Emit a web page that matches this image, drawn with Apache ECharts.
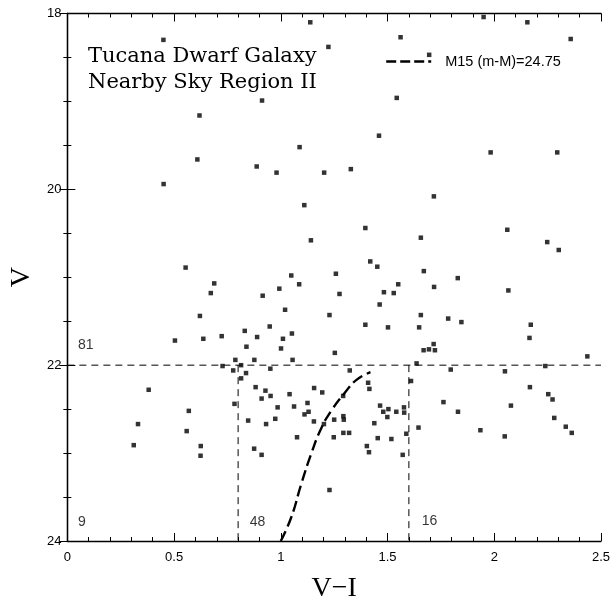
<!DOCTYPE html>
<html><head><meta charset="utf-8">
<script src="https://cdn.jsdelivr.net/npm/echarts@6/dist/echarts.min.js"></script>
<style>html,body{margin:0;padding:0;background:#fff}#c{width:616px;height:608px}</style>
</head><body><div id="c"></div>
<script>
// Stars: V-I colour and V magnitude
const starsVI = [0.450,1.138,1.223,0.619,0.912,0.609,0.887,0.980,1.088,1.203,0.451,1.950,2.155,1.561,2.358,1.543,1.460,1.328,1.983,2.295,1.717,1.695,
1.110,1.141,0.554,0.688,0.672,1.258,1.275,0.621,1.228,0.915,0.993,1.049,1.086,1.020,0.948,0.831,0.504,0.637,0.723,0.889,1.010,1.052,0.839,1.001,1.253,0.787,0.876,1.055,0.727,0.814,0.951,0.777,0.837,0.814,
1.396,2.061,1.656,2.248,2.302,1.419,1.452,1.670,1.829,1.550,1.483,1.529,1.718,2.066,1.463,1.656,1.784,1.846,1.396,1.502,1.648,2.171,2.165,1.716,1.669,1.694,1.722,1.636,2.436,1.323,1.796,2.050,2.239,
0.381,0.569,0.331,0.559,0.311,0.625,0.624,0.783,0.882,0.928,0.910,0.952,1.041,1.156,1.194,0.985,1.062,1.125,1.111,1.130,0.847,0.931,0.974,1.155,1.202,1.250,1.076,1.248,0.875,0.910,1.228,
1.409,1.415,1.292,1.610,2.167,2.253,2.273,1.762,1.830,2.078,2.281,1.465,1.480,1.504,1.499,1.541,1.577,1.578,1.293,1.295,1.438,1.293,1.320,1.454,1.518,1.588,1.645,1.935,2.049,2.335,2.363,1.403,1.413,1.571];
const starsV = [18.30,18.10,18.38,19.16,18.99,19.66,19.74,19.81,19.52,19.81,19.94,18.04,18.10,18.27,18.29,18.96,19.39,19.77,19.58,19.58,20.08,18.47,
20.18,20.58,20.89,21.07,21.18,20.96,21.19,21.44,21.43,21.21,21.13,20.98,21.08,21.37,21.56,21.61,21.72,21.70,21.67,21.68,21.70,21.64,21.79,21.81,21.86,21.94,21.94,21.94,22.01,22.00,22.04,22.06,22.09,22.15,
20.44,20.46,20.55,20.60,20.69,20.82,20.88,20.93,21.01,21.08,21.17,21.18,21.11,21.15,21.31,21.43,21.47,21.51,21.54,21.57,21.57,21.54,21.69,21.76,21.83,21.82,21.83,21.98,21.90,22.06,22.05,22.07,22.01,
22.28,22.52,22.67,22.75,22.91,22.92,23.03,22.44,22.25,22.29,22.38,22.35,22.33,22.26,22.31,22.48,22.47,22.43,22.56,22.53,22.63,22.67,22.61,22.64,22.67,22.62,22.82,22.82,22.95,23.02,23.42,
22.20,22.27,22.35,22.18,22.25,22.33,22.39,22.42,22.53,22.46,22.60,22.46,22.53,22.50,22.59,22.53,22.48,22.54,22.58,22.62,22.66,22.77,22.77,22.83,22.84,22.78,22.71,22.74,22.81,22.70,22.77,22.92,22.99,23.02];

// M15 fiducial, (m-M)=24.75
const m15VI = [1.000,1.049,1.096,1.142,1.189,1.236,1.298,1.353,1.420];
const m15V  = [24.00,23.73,23.35,23.01,22.72,22.52,22.32,22.17,22.08];
const m15Name = 'M15 (m-M)=24.75';

// Region boundaries
const cutV = 22;
const colorCuts = [0.8, 1.6];
const xRange = [0, 2.5];
const yRange = [18, 24];

// Region counts
const regionText = ['81', '9', '48', '16'];
const regionVI   = [0.05, 0.05, 0.854, 1.66];
const regionV    = [21.77, 23.78, 23.78, 23.77];

const titleLines = ['Tucana Dwarf Galaxy', 'Nearby Sky Region II'];

const chart = echarts.init(document.getElementById('c'), null, {renderer: 'canvas'});
const sans = 'Liberation Sans, Arial, sans-serif';
const serif = 'Liberation Serif, Times New Roman, serif';
const ink = '#000';

const mirrorAxis = {
  show: true, axisLine: {show: true, lineStyle: {color: ink, width: 1.3}},
  axisLabel: {show: false}, splitLine: {show: false},
  axisTick: {show: true, inside: true, length: 8, lineStyle: {color: ink}},
  minorTick: {show: true, length: 4, lineStyle: {color: ink}}
};

const dashLine = (data) => ({
  type: 'line', data, symbol: 'none', silent: true, z: 1,
  lineStyle: {color: ink, width: 1, type: [7, 5]}
});

chart.setOption({
  animation: false,
  backgroundColor: '#fff',
  title: {
    text: titleLines.join('\n'), left: 83, top: 39,
    textStyle: {fontFamily: 'DejaVu Serif', fontWeight: 'normal', fontSize: 21, lineHeight: 26, color: ink}
  },
  legend: {
    data: [m15Name], left: 380, top: 49, itemWidth: 45, itemHeight: 14, itemGap: 0,
    itemStyle: {opacity: 0},
    lineStyle: {type: [10, 4], width: 2.4, color: ink},
    textStyle: {fontFamily: sans, fontSize: 14.5, color: ink, padding: [0, 0, 0, 9]}
  },
  grid: {left: 66, right: 15, top: 13.5, bottom: 67},
  xAxis: [{
    type: 'value', min: xRange[0], max: xRange[1], interval: 0.5,
    name: 'V\u2212I', nameLocation: 'middle', nameGap: 34,
    nameTextStyle: {fontFamily: serif, fontSize: 28, color: ink},
    axisLine: {show: true, onZero: false, lineStyle: {color: ink, width: 1.3}},
    axisTick: {show: true, inside: true, length: 8, lineStyle: {color: ink}},
    minorTick: {show: true, splitNumber: 5, length: 4, lineStyle: {color: ink}},
    axisLabel: {fontFamily: sans, fontSize: 13, color: ink, margin: 10},
    splitLine: {show: false}
  }, Object.assign({}, mirrorAxis, {
    type: 'value', position: 'top', min: xRange[0], max: xRange[1], interval: 0.5,
    minorTick: {show: true, splitNumber: 5, length: 4, lineStyle: {color: ink}}
  })],
  yAxis: [{
    type: 'value', inverse: true, min: yRange[0], max: yRange[1], interval: 2,
    name: 'V', nameLocation: 'middle', nameGap: 30,
    nameTextStyle: {fontFamily: serif, fontSize: 28, color: ink},
    axisLine: {show: true, onZero: false, lineStyle: {color: ink, width: 1.3}},
    axisTick: {show: true, inside: true, length: 8, lineStyle: {color: ink}},
    minorTick: {show: true, splitNumber: 4, length: 4, lineStyle: {color: ink}},
    axisLabel: {fontFamily: sans, fontSize: 13, color: ink, margin: 6},
    splitLine: {show: false}
  }, Object.assign({}, mirrorAxis, {
    type: 'value', position: 'right', inverse: true, min: yRange[0], max: yRange[1], interval: 2,
    minorTick: {show: true, splitNumber: 4, length: 4, lineStyle: {color: ink}}
  })],
  series: [
    dashLine([[xRange[0], cutV], [xRange[1], cutV]]),
    dashLine([[colorCuts[0], cutV], [colorCuts[0], yRange[1]]]),
    dashLine([[colorCuts[1], cutV], [colorCuts[1], yRange[1]]]),
    {
      name: m15Name, type: 'line', smooth: true, symbol: 'none', z: 3,
      data: m15VI.map((x, i) => [x, m15V[i]]),
      lineStyle: {color: ink, width: 2.4, type: [11, 5]},
      itemStyle: {color: ink}
    },
    {
      type: 'scatter', symbol: 'rect', symbolSize: 4.5, z: 4,
      data: starsVI.map((x, i) => [x, starsV[i]]),
      itemStyle: {color: ink}
    },
    {
      type: 'scatter', symbolSize: 0, z: 5, silent: true,
      data: regionVI.map((x, i) => ({value: [x, regionV[i]], name: regionText[i]})),
      label: {show: true, position: 'right', distance: 0, formatter: p => p.name,
        fontFamily: sans, fontSize: 14, color: ink}
    }
  ]
});
</script></body></html>
